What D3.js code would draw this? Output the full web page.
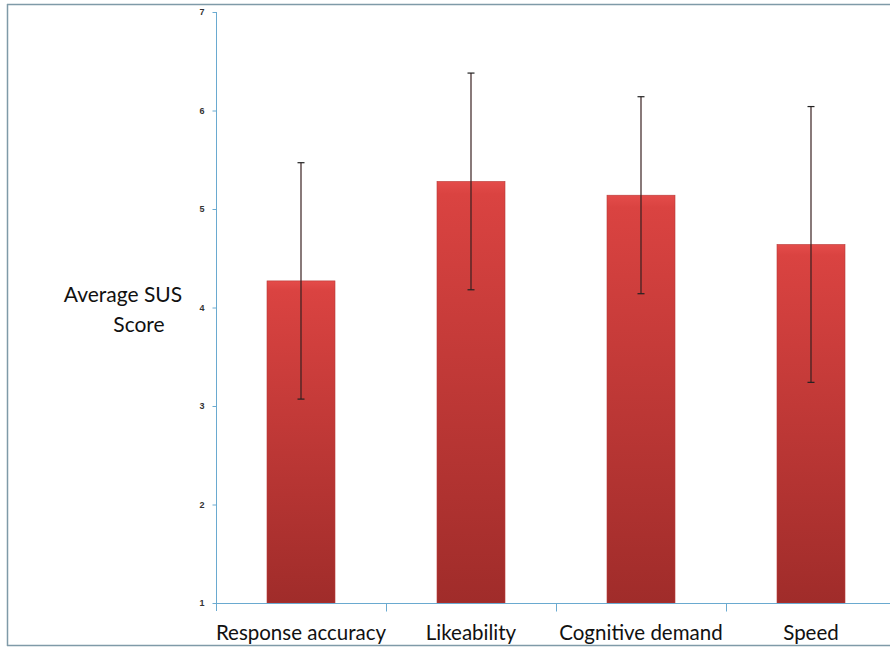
<!DOCTYPE html>
<html><head><meta charset="utf-8">
<script src="https://cdn.jsdelivr.net/npm/d3@7"></script>
<style>body{margin:0;background:#fff}svg{display:block}</style>
</head><body>
<script>
const categories = ["Response accuracy", "Likeability", "Cognitive demand", "Speed"];
const means = [4.27, 5.28, 5.14, 4.64];
const errors = [1.2, 1.1, 1.0, 1.4];
const yTicks = [1, 2, 3, 4, 5, 6, 7];
const yTitle = ["Average SUS", "Score"];

const W = 890, H = 647;
const svg = d3.select("body").append("svg").attr("width", W).attr("height", H);

const defs = svg.append("defs");
const g1 = defs.append("linearGradient").attr("id", "barGrad").attr("x1", 0).attr("y1", 0).attr("x2", 0).attr("y2", 1);
g1.append("stop").attr("offset", "0%").attr("stop-color", "#e44c4a");
g1.append("stop").attr("offset", "3%").attr("stop-color", "#da4341");
g1.append("stop").attr("offset", "100%").attr("stop-color", "#a02c2a");

// frame
svg.append("line").attr("x1", 7).attr("x2", W).attr("y1", 4.5).attr("y2", 4.5).attr("stroke", "#7f9aa8").attr("stroke-width", 1.5);
svg.append("line").attr("x1", 7.5).attr("x2", 7.5).attr("y1", 4).attr("y2", 646).attr("stroke", "#7f9aa8").attr("stroke-width", 1.5);
svg.append("line").attr("x1", 7).attr("x2", W).attr("y1", 645.5).attr("y2", 645.5).attr("stroke", "#7f9aa8").attr("stroke-width", 1.5);

const x = d3.scaleBand().domain(categories).range([216, 896]).paddingInner(0.6).paddingOuter(0.3);
const xOuter = d3.scaleBand().domain(categories).range([216, 896]);
const y = d3.scaleLinear().domain([1, 7]).range([603, 12]);

const axisColor = "#6aaad0";

// bars
svg.selectAll("rect.bar").data(categories).join("rect").attr("class", "bar")
  .attr("x", d => x(d)).attr("width", x.bandwidth())
  .attr("y", (d, i) => y(means[i])).attr("height", (d, i) => y(1) - y(means[i]))
  .attr("fill", "url(#barGrad)").attr("stroke", "#b83a38").attr("stroke-width", 0.6);

// y axis
const yAxis = svg.append("g").attr("transform", "translate(216.5,0)")
  .call(d3.axisLeft(y).tickValues(yTicks).tickFormat(d3.format("d")).tickSize(4).tickPadding(8));
yAxis.select(".domain").attr("stroke", axisColor).attr("d", `M0,${y(7)}V611`);
yAxis.selectAll(".tick line").attr("stroke", axisColor);
yAxis.selectAll(".tick text").attr("fill", "#333").style("font-family", "Arial, 'Liberation Sans', sans-serif").style("font-size", "9px").style("font-weight", "bold");

// x axis
const xAxisG = svg.append("g").attr("transform", `translate(0,${y(1) + 0.5})`);
xAxisG.append("line").attr("x1", 216).attr("x2", W).attr("stroke", axisColor);
xAxisG.selectAll("line.tk").data(categories.slice(1)).join("line").attr("class", "tk")
  .attr("x1", d => xOuter(d) + 0.5).attr("x2", d => xOuter(d) + 0.5).attr("y1", 0).attr("y2", 8).attr("stroke", axisColor);
xAxisG.selectAll("text").data(categories).join("text")
  .attr("x", d => xOuter(d) + xOuter.bandwidth() / 2).attr("y", 36)
  .attr("text-anchor", "middle").attr("fill", "#111")
  .style("font-family", "Lato, 'Open Sans', sans-serif").style("font-size", "20.5px")
  .text(d => d);

// error bars
const eb = svg.selectAll("g.err").data(categories).join("g").attr("class", "err");
eb.append("line").attr("x1", d => x(d) + x.bandwidth() / 2).attr("x2", d => x(d) + x.bandwidth() / 2)
  .attr("y1", (d, i) => y(means[i] + errors[i])).attr("y2", (d, i) => y(means[i] - errors[i]))
  .attr("stroke", "#3a2020").attr("stroke-width", 1.2);
eb.append("line").attr("x1", d => x(d) + x.bandwidth() / 2 - 3.5).attr("x2", d => x(d) + x.bandwidth() / 2 + 3.5)
  .attr("y1", (d, i) => y(means[i] + errors[i])).attr("y2", (d, i) => y(means[i] + errors[i]))
  .attr("stroke", "#222").attr("stroke-width", 1.2);
eb.append("line").attr("x1", d => x(d) + x.bandwidth() / 2 - 3.5).attr("x2", d => x(d) + x.bandwidth() / 2 + 3.5)
  .attr("y1", (d, i) => y(means[i] - errors[i])).attr("y2", (d, i) => y(means[i] - errors[i]))
  .attr("stroke", "#222").attr("stroke-width", 1.2);

// y title
svg.append("text").attr("y", 302).attr("text-anchor", "middle")
  .style("font-family", "Lato, 'Open Sans', sans-serif").style("font-size", "21px").attr("fill", "#111")
  .selectAll("tspan").data(yTitle).join("tspan").attr("x", (d, i) => i ? 139 : 123).attr("dy", (d, i) => i ? 30 : 0).text(d => d);
</script>
</body></html>
